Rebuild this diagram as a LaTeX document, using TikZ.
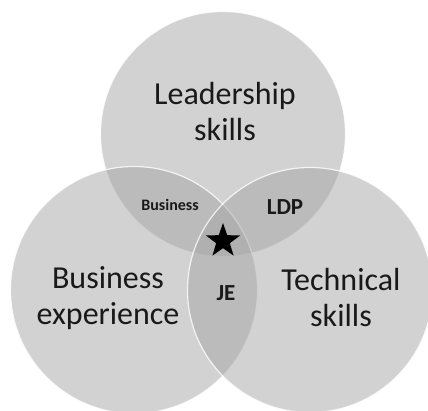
\documentclass[tikz,border=0pt]{standalone}
\usepackage{fontspec}
\setmainfont{Carlito}
\usetikzlibrary{shapes.geometric}
\begin{document}
\begin{tikzpicture}[x=1pt,y=-1pt]
\useasboundingbox[fill=white] (0,0) rectangle (428,410);
\node[circle, minimum size=245pt, fill=black!35, fill opacity=0.5, draw=white, draw opacity=0.8, line width=1.2pt] (lead) at (223,134) {};
\node[circle, minimum size=247pt, fill=black!35, fill opacity=0.5, draw=white, draw opacity=0.8, line width=1.2pt] (busi) at (134,290) {};
\node[circle, minimum size=245pt, fill=black!35, fill opacity=0.5, draw=white, draw opacity=0.8, line width=1.2pt] (tech) at (310,290) {};
\node[align=center, font=\fontsize{32}{36}\selectfont, text=black!90] (leadt) at (225,112) {Leadership\\skills};
\node[align=center, font=\fontsize{32}{36}\selectfont, text=black!90] (busit) at (108,298) {Business\\experience};
\node[align=center, font=\fontsize{32}{36}\selectfont, text=black!90] (techt) at (341,298) {Technical\\skills};
\node[font=\bfseries\fontsize{16}{18}\selectfont, text=black!90] (lb) at (170,205) {Business};
\node[font=\bfseries\fontsize{23}{25}\selectfont, text=black!90] (ldp) at (285,207) {LDP};
\node[font=\bfseries\fontsize{23}{24}\selectfont, text=black!90] (je) at (226,293) {JE};
\node[star, star points=5, star point ratio=2.5, fill=black, minimum size=36pt, inner sep=0pt] (all) at (223,241) {};
\end{tikzpicture}
\end{document}
